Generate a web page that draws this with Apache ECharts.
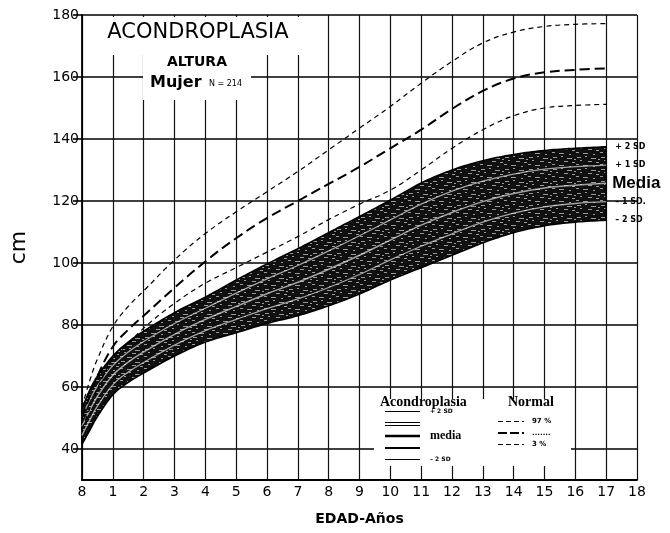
<!DOCTYPE html>
<html>
<head>
<meta charset="utf-8">
<script src="https://cdn.jsdelivr.net/npm/echarts@6/dist/echarts.min.js"></script>
<style>
  html, body { margin: 0; padding: 0; background: #fff; }
  #chart { width: 670px; height: 533px; }
</style>
</head>
<body>
<div id="chart"></div>
<script>
// Ages (years) at which the curves are sampled
const ages = [0, 0.25, 0.5, 1, 1.5, 2, 3, 4, 5, 6, 7, 8, 9, 10, 11, 12, 13, 14, 15, 16, 17];

// Achondroplasia, girls: height (cm) by SD line
const achPlus2  = [53, 59, 63.5, 70, 74.5, 78, 84, 89, 94.5, 99.7, 104.6, 109.8, 115, 120.3, 125.8, 130, 133, 135, 136.3, 137, 137.5];
const achPlus1  = [50.2, 55.8, 60.3, 66.9, 71.3, 74.7, 80.5, 85.4, 90.3, 94.9, 99.2, 103.9, 108.8, 113.9, 119, 123.2, 126.4, 128.7, 130.3, 131.1, 131.6];
const achMedia  = [47.3, 52.5, 57, 63.8, 68, 71.3, 77, 81.8, 86, 90.1, 93.8, 98, 102.5, 107.4, 112.2, 116.3, 119.8, 122.4, 124.2, 125.1, 125.7];
const achMinus1 = [44.4, 49.3, 53.8, 60.7, 64.8, 67.9, 73.5, 78.2, 81.8, 85.3, 88.4, 92.1, 96.3, 101, 105.4, 109.4, 113.2, 116.1, 118.1, 119.2, 119.8];
const achMinus2 = [41.5, 46, 50.5, 57.5, 61.5, 64.5, 70, 74.5, 77.5, 80.5, 83, 86.2, 90, 94.5, 98.5, 102.5, 106.5, 109.8, 112, 113.2, 113.8];

// Normal girls: percentiles 97, 50 and 3 (cm)
const normP97 = [53.5, 62, 69, 79.5, 86, 91, 101, 109.5, 116.5, 123, 129.5, 136.5, 143.5, 150.5, 158, 165, 171, 174.5, 176.3, 177, 177.2];
const normP50 = [50, 57, 63.5, 73, 78.5, 83, 92, 100.5, 108, 114.5, 120, 125.5, 131, 137, 143, 149.7, 155.5, 159.5, 161.5, 162.3, 162.8];
const normP3  = [46.5, 53, 59.5, 69, 74, 79, 87, 93.5, 98.5, 103.5, 108.5, 114, 119, 123.5, 130, 137, 143, 147.5, 150, 150.8, 151.2];

// Axis tick labels
const xTickLabels = ['8', '1', '2', '3', '4', '5', '6', '7', '8', '9', '10', '11', '12', '13', '14', '15', '16', '17', '18'];
const yTickValues = [40, 60, 80, 100, 120, 140, 160, 180];

const FONT = 'DejaVu Sans, Liberation Sans, sans-serif';
const SERIF = 'Liberation Serif, DejaVu Serif, serif';

function pairs(ys) { return ages.map((a, i) => [a, ys[i]]); }

// Dark stippled texture for the achondroplasia band
const stippleCanvas = (function () {
  const c = document.createElement('canvas');
  c.width = 24; c.height = 12;
  const g = c.getContext('2d');
  g.fillStyle = '#101010';
  g.fillRect(0, 0, 24, 12);
  g.fillStyle = '#9a9a9a';
  [[1,1,4,1],[9,0,2,1],[15,2,5,1],[4,4,2,1],[12,5,4,1],[20,6,3,1],[0,8,3,1],[7,9,5,1],[17,10,2,1],[22,3,2,1]]
    .forEach(r => g.fillRect(r[0], r[1], r[2], r[3]));
  return c;
})();

const SMOOTH = 0.4;

function sdLine(name, ys, width, color, labelText, labelStyle) {
  return {
    name, type: 'line', data: pairs(ys), smooth: SMOOTH,
    symbol: 'none', z: 4,
    lineStyle: { color, width },
    endLabel: Object.assign({ show: true, formatter: labelText, distance: 9, color: '#000', fontFamily: FONT, fontSize: 8, fontWeight: 'bold' }, labelStyle || {})
  };
}

function dashLine(name, ys, width, dash) {
  return {
    name, type: 'line', data: pairs(ys), smooth: SMOOTH,
    symbol: 'none', z: 5,
    lineStyle: { color: '#000', width, type: dash }
  };
}

// Smooth outline through pixel points (cubic Hermite, finite-difference tangents)
function smoothOutline(pts, steps) {
  const n = pts.length;
  const slope = i => {
    const a = pts[Math.max(0, i - 1)], b = pts[Math.min(n - 1, i + 1)];
    return (b[1] - a[1]) / (b[0] - a[0]);
  };
  const out = [pts[0]];
  for (let i = 0; i < n - 1; i++) {
    const [x0, y0] = pts[i], [x1, y1] = pts[i + 1];
    const dx = x1 - x0, m0 = slope(i), m1 = slope(i + 1);
    for (let k = 1; k <= steps; k++) {
      const t = k / steps, t2 = t * t, t3 = t2 * t;
      const y = (2 * t3 - 3 * t2 + 1) * y0 + (t3 - 2 * t2 + t) * dx * m0 +
                (-2 * t3 + 3 * t2) * y1 + (t3 - t2) * dx * m1;
      out.push([x0 + t * dx, y]);
    }
  }
  return out;
}

// Band between -2 SD and +2 SD, drawn as one closed shape in data coordinates
function renderBand(params, api) {
  const top = smoothOutline(ages.map((a, i) => api.coord([a, achPlus2[i]])), 10);
  const bottom = smoothOutline(ages.map((a, i) => api.coord([a, achMinus2[i]])), 10).reverse();
  const shape = { points: top.concat(bottom) };
  return {
    type: 'group',
    children: [
      { type: 'polygon', shape, style: { fill: '#1e1e1e', stroke: null } },
      { type: 'polygon', shape, style: { fill: { image: stippleCanvas, repeat: 'repeat' }, stroke: '#000', lineWidth: 1.6, lineJoin: 'round' } }
    ]
  };
}

const chart = echarts.init(document.getElementById('chart'), null, { renderer: 'canvas' });

const legendLines = [
  { y: 411.5, w: 1.2 }, { y: 422.5, w: 1.2 }, { y: 425.5, w: 1.2 }, { y: 436, w: 2.6 }, { y: 448, w: 2 }, { y: 459.5, w: 1.2 }
].map(l => ({
  type: 'line', z: 101,
  shape: { x1: 385, y1: l.y, x2: 420, y2: l.y },
  style: { stroke: '#000', lineWidth: l.w }
}));

const normalLegend = [
  { y: 421.5, w: 1.2, dash: [5, 3], text: '97 %' },
  { y: 433, w: 2, dash: [9, 3], text: '.......' },
  { y: 444.5, w: 1.2, dash: [5, 3], text: '3 %' }
];
const normalLegendEls = [];
normalLegend.forEach(n => {
  normalLegendEls.push({
    type: 'line', z: 101,
    shape: { x1: 498, y1: n.y, x2: 524, y2: n.y },
    style: { stroke: '#000', lineWidth: n.w, lineDash: n.dash }
  });
  normalLegendEls.push({
    type: 'text', z: 101, x: 532, y: n.y,
    style: { text: n.text, fontFamily: FONT, fontSize: 7, fontWeight: 'bold', fill: '#000', verticalAlign: 'middle' }
  });
});

const option = {
  animation: false,
  backgroundColor: '#fff',
  grid: { left: 75, right: 33, top: 15, bottom: 53 },
  xAxis: {
    type: 'value', min: 0, max: 18, interval: 1,
    name: 'EDAD-Años', nameLocation: 'middle', nameGap: 32,
    nameTextStyle: { fontFamily: FONT, fontSize: 14, fontWeight: 'bold', color: '#000' },
    axisLine: { show: true, lineStyle: { color: '#000', width: 1.8 } },
    axisTick: { show: false },
    axisLabel: {
      formatter: v => xTickLabels[Math.round(v)], margin: 5,
      fontFamily: FONT, fontSize: 14, color: '#000'
    },
    splitLine: { show: true, lineStyle: { color: '#111', width: 1.2 } }
  },
  yAxis: {
    type: 'value', min: 30, max: 180, interval: 10,
    name: 'cm', nameLocation: 'middle', nameGap: 52, nameRotate: 90,
    nameTextStyle: { fontFamily: FONT, fontSize: 22, color: '#000' },
    axisLine: { show: true, lineStyle: { color: '#000', width: 1.8 } },
    axisTick: { show: true, length: 9, customValues: yTickValues, lineStyle: { color: '#000', width: 1.6 } },
    axisLabel: { customValues: yTickValues, margin: 3, fontFamily: FONT, fontSize: 14, color: '#000' },
    splitLine: { show: true, lineStyle: { color: '#000', width: 1.6 } }
  },
  series: [
    {
      name: 'band', type: 'custom', z: 3, clip: true,
      data: [[ages[0], achMinus2[0]]],
      encode: { x: 0, y: 1 },
      renderItem: renderBand
    },
    // outer SD lines are outlined by the band itself; these carry the end labels
    sdLine('+2 SD', achPlus2, 1.6, 'rgba(0,0,0,0)', '+ 2 SD'),
    sdLine('+1 SD', achPlus1, 1.3, 'rgba(225,225,225,0.7)', '+ 1 SD'),
    sdLine('Media', achMedia, 1.5, 'rgba(225,225,225,0.7)', 'Media', { fontSize: 17, distance: 6, fontFamily: 'Liberation Sans Narrow, Liberation Sans, sans-serif' }),
    sdLine('-1 SD', achMinus1, 1.3, 'rgba(225,225,225,0.7)', '\u2013 1 SD.'),
    sdLine('-2 SD', achMinus2, 1.6, 'rgba(0,0,0,0)', '\u2013 2 SD'),
    dashLine('97 %', normP97, 1.2, [5, 4]),
    dashLine('media', normP50, 2, [10, 5]),
    dashLine('3 %', normP3, 1.2, [5, 4])
  ],
  graphic: [
    // blank areas behind the title block
    { type: 'rect', z: 100, shape: { x: 98, y: 17, width: 208, height: 38 }, style: { fill: '#fff' } },
    { type: 'rect', z: 100, shape: { x: 143, y: 50, width: 108, height: 50 }, style: { fill: '#fff' } },
    { type: 'text', z: 101, x: 198, y: 33, style: { text: 'ACONDROPLASIA', fontFamily: FONT, fontSize: 21, fill: '#000', align: 'center', verticalAlign: 'middle' } },
    { type: 'text', z: 101, x: 197, y: 62, style: { text: 'ALTURA', fontFamily: FONT, fontSize: 14, fontWeight: 'bold', fill: '#000', align: 'center', verticalAlign: 'middle' } },
    { type: 'text', z: 101, x: 150, y: 83, style: { text: 'Mujer', fontFamily: FONT, fontSize: 16, fontWeight: 'bold', fill: '#000', align: 'left', verticalAlign: 'middle' } },
    { type: 'text', z: 101, x: 209, y: 84, style: { text: 'N = 214', fontFamily: FONT, fontSize: 8, fill: '#000', align: 'left', verticalAlign: 'middle' } },
    // legend block
    { type: 'rect', z: 100, shape: { x: 374, y: 399, width: 197, height: 67 }, style: { fill: '#fff' } },
    { type: 'text', z: 101, x: 380, y: 402, style: { text: 'Acondroplasia', fontFamily: SERIF, fontSize: 14, fontWeight: 'bold', fill: '#000', align: 'left', verticalAlign: 'middle' } },
    { type: 'text', z: 101, x: 508, y: 402, style: { text: 'Normal', fontFamily: SERIF, fontSize: 14, fontWeight: 'bold', fill: '#000', align: 'left', verticalAlign: 'middle' } },
    ...legendLines,
    { type: 'text', z: 101, x: 430, y: 411, style: { text: '+ 2 SD', fontFamily: FONT, fontSize: 6, fontWeight: 'bold', fill: '#000', verticalAlign: 'middle' } },
    { type: 'text', z: 101, x: 430, y: 436, style: { text: 'media', fontFamily: SERIF, fontSize: 12, fontWeight: 'bold', fill: '#000', verticalAlign: 'middle' } },
    { type: 'text', z: 101, x: 430, y: 459, style: { text: '\u2013 2 SD', fontFamily: FONT, fontSize: 6, fontWeight: 'bold', fill: '#000', verticalAlign: 'middle' } },
    ...normalLegendEls
  ]
};

chart.setOption(option);
</script>
</body>
</html>
